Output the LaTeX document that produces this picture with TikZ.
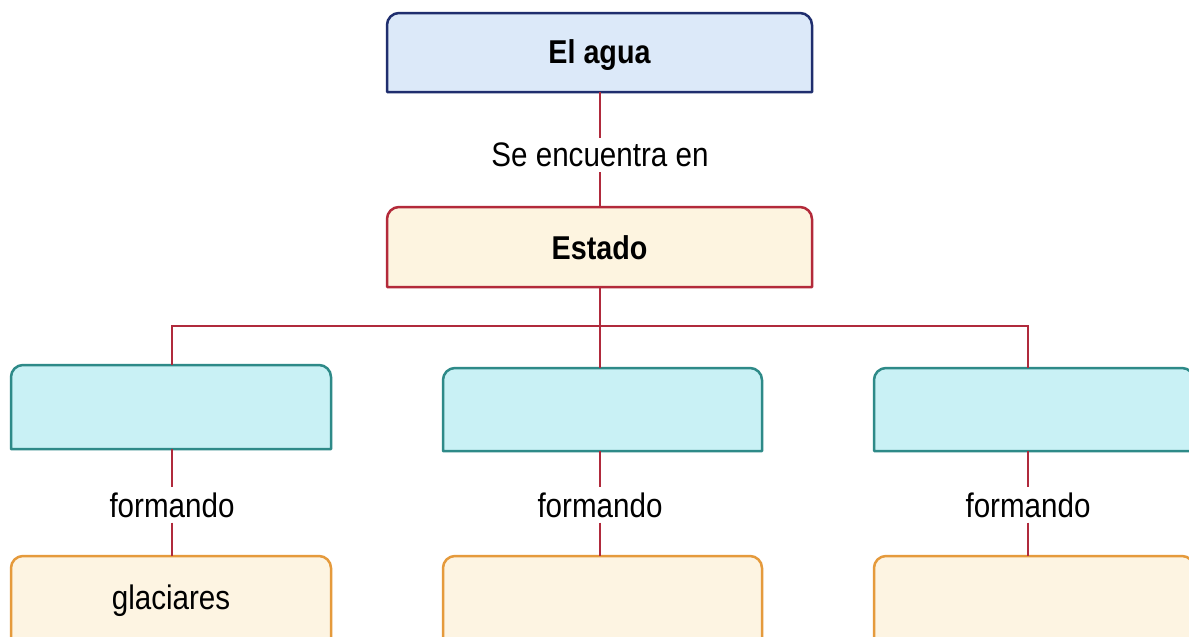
\documentclass[tikz,border=0pt]{standalone}
\usepackage{fontspec}
\setmainfont{Liberation Sans}[FakeStretch=0.87]
\usetikzlibrary{backgrounds}
\definecolor{linered}{HTML}{B02A3C}
\definecolor{aguafill}{HTML}{DCE9F9}
\definecolor{aguadraw}{HTML}{1F2E6E}
\definecolor{estfill}{HTML}{FDF4E0}
\definecolor{estdraw}{HTML}{B32A3A}
\definecolor{cyfill}{HTML}{C9F1F5}
\definecolor{cydraw}{HTML}{2E8A88}
\definecolor{orfill}{HTML}{FDF4E2}
\definecolor{ordraw}{HTML}{E59A3C}
\newcommand\topbox[3]{%
  \filldraw[fill=#2,draw=#3,line width=2.5pt,line join=round]
    (#1.south west) -- ([yshift=-12pt]#1.north west)
    arc[start angle=180,end angle=90,radius=12pt]
    -- ([xshift=-12pt]#1.north east)
    arc[start angle=90,end angle=0,radius=12pt]
    -- (#1.south east) -- cycle;}
\tikzset{
  boxnode/.style={inner sep=0pt,outer sep=0pt,minimum width=#1},
  labelnode/.style={inner sep=5pt,font=\fontsize{34}{38}\selectfont},
  titletext/.style={font=\fontsize{33}{38}\selectfont\bfseries},
  plaintext/.style={font=\fontsize{34}{38}\selectfont},
  conn/.style={draw=linered,line width=2.5pt}
}
\begin{document}
\begin{tikzpicture}[x=1pt,y=-1pt]
\clip (0,0) rectangle (1189,637);
% boxes (named nodes)
\node[boxnode=425pt,minimum height=79pt] (agua) at (599.5,52.5) {};
\node[boxnode=425pt,minimum height=80pt] (estado) at (599.5,247) {};
\node[titletext] (aguat) at (599.5,55) {El agua};
\node[titletext] (estadot) at (599.5,248) {Estado};
\node[boxnode=320pt,minimum height=84pt] (cL) at (171,407) {};
\node[boxnode=319pt,minimum height=83pt] (cM) at (602.5,409.5) {};
\node[boxnode=320pt,minimum height=83pt] (cR) at (1034,409.5) {};
\node[boxnode=320pt,minimum height=86pt] (oL) at (171,599) {};
\node[boxnode=319pt,minimum height=86pt] (oM) at (602.5,599) {};
\node[boxnode=320pt,minimum height=86pt] (oR) at (1034,599) {};
\node[plaintext] (glac) at (171,601) {glaciares};
% labels
\node[labelnode] (lab1) at (600,155) {Se encuentra en};
\node[labelnode] (fL) at (172,505) {formando};
\node[labelnode] (fM) at (600,505) {formando};
\node[labelnode] (fR) at (1028,505) {formando};
\coordinate (bL) at (172,326);
\coordinate (bM) at (600,326);
\coordinate (bR) at (1028,326);
\begin{scope}[on background layer]
\fill[white] (0,0) rectangle (1189,637);
\topbox{agua}{aguafill}{aguadraw}
\topbox{estado}{estfill}{estdraw}
\topbox{cL}{cyfill}{cydraw}
\topbox{cM}{cyfill}{cydraw}
\topbox{cR}{cyfill}{cydraw}
\topbox{oL}{orfill}{ordraw}
\topbox{oM}{orfill}{ordraw}
\topbox{oR}{orfill}{ordraw}
\end{scope}
% connectors
\draw[conn] (agua.south -| lab1) -- (lab1.north);
\draw[conn] (lab1.south) -- (estado.north -| lab1);
\draw[conn] (estado.south -| bM) -- (bM) -- (cM.north -| bM);
\draw[conn] (bL |- cL.north) -- (bL) -- (bR) -- (bR |- cR.north);
\draw[conn] (cL.south -| fL) -- (fL.north);
\draw[conn] (fL.south) -- (oL.north -| fL);
\draw[conn] (cM.south -| fM) -- (fM.north);
\draw[conn] (fM.south) -- (oM.north -| fM);
\draw[conn] (cR.south -| fR) -- (fR.north);
\draw[conn] (fR.south) -- (oR.north -| fR);
\end{tikzpicture}
\end{document}
